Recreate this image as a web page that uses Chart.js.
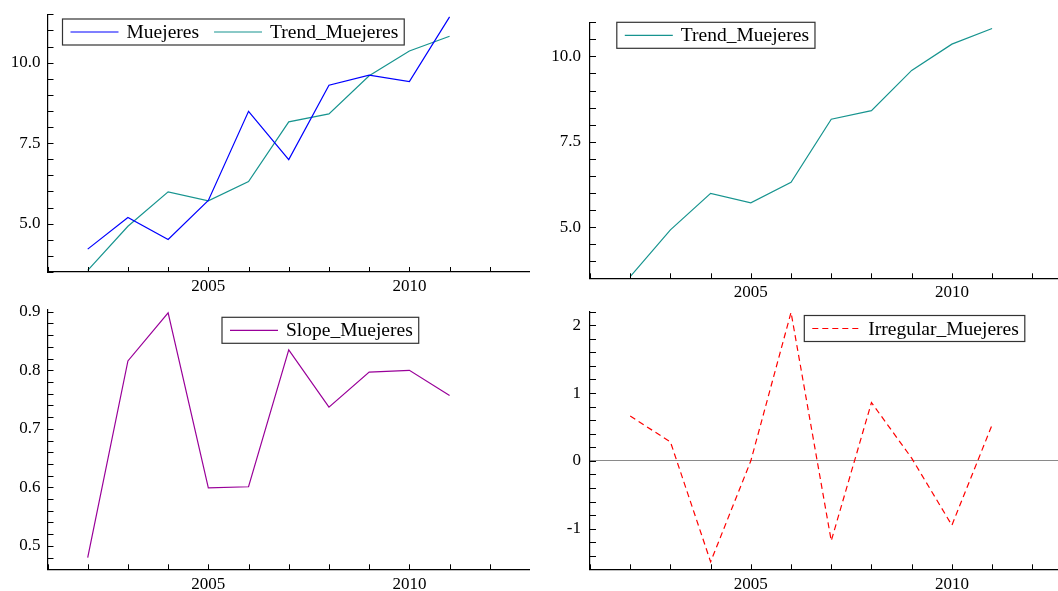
<!DOCTYPE html>
<html>
<head>
<meta charset="utf-8">
<title>Muejeres</title>
<script src="https://cdn.jsdelivr.net/npm/chart.js@4"></script>
<style>
    html, body { margin: 0; padding: 0; background: #fff; overflow: hidden; }
    body { width: 1058px; height: 591px; position: relative; }
    canvas { position: absolute; }
</style>
</head>
<body>
<canvas id="levelChart" width="530" height="305" style="left:0;top:0"></canvas>
<canvas id="trendChart" width="545" height="305" style="left:530px;top:0"></canvas>
<canvas id="slopeChart" width="530" height="291" style="left:0;top:300px"></canvas>
<canvas id="irregularChart" width="545" height="291" style="left:530px;top:300px"></canvas>
<script>
// data
const years = [2002, 2003, 2004, 2005, 2006, 2007, 2008, 2009, 2010, 2011];
const muejeres = [4.21, 5.19, 4.51, 5.72, 8.49, 6.99, 9.30, 9.61, 9.41, 11.42];
const trendMuejeres = [3.55, 4.92, 5.99, 5.71, 6.31, 8.16, 8.41, 9.59, 10.36, 10.82];
const slopeMuejeres = [0.480, 0.816, 0.898, 0.599, 0.601, 0.835, 0.737, 0.797, 0.800, 0.757];
const irregularMuejeres = [0.66, 0.28, -1.49, 0.00, 2.19, -1.18, 0.86, 0.04, -0.95, 0.53];

// labelled ticks
const yearLabels = [2005, 2010];
const levelTickLabels = [5.0, 7.5, 10.0];
const slopeTickLabels = [0.5, 0.6, 0.7, 0.8, 0.9];
const irregularTickLabels = [-1, 0, 1, 2];

const FONT = '"Liberation Serif", "Times New Roman", serif';

function toPoints(values) {
    return years.map((yr, i) => ({ x: yr, y: values[i] }));
}

function buildTicks(min, max, step) {
    const ticks = [];
    let v = Math.ceil(min / step - 1e-6) * step;
    while (v <= max + 1e-6) {
        ticks.push({ value: Math.round(v * 1000) / 1000 });
        v += step;
    }
    return ticks;
}

function hasLabel(list, value) {
    return list.some(l => Math.abs(l - value) < 1e-6);
}

// small inward tick marks on both axes
const innerTicksPlugin = {
    id: 'innerTicks',
    afterDraw(chart) {
        const { ctx, chartArea } = chart;
        const xs = chart.scales.x;
        const ys = chart.scales.y;
        ctx.save();
        ctx.strokeStyle = '#000';
        ctx.lineWidth = 1;
        ctx.beginPath();
        xs.ticks.forEach(t => {
            const px = Math.round(xs.getPixelForValue(t.value)) + 0.5;
            ctx.moveTo(px, chartArea.bottom);
            ctx.lineTo(px, chartArea.bottom - 5);
        });
        ys.ticks.forEach(t => {
            const py = Math.round(ys.getPixelForValue(t.value)) + 0.5;
            ctx.moveTo(chartArea.left, py);
            ctx.lineTo(chartArea.left + 6, py);
        });
        ctx.stroke();
        ctx.restore();
    }
};

// boxed legend sitting inside the plot
const boxLegendPlugin = {
    id: 'boxLegend',
    afterDraw(chart, args, opts) {
        const ctx = chart.ctx;
        const items = chart.data.datasets.filter(ds => ds.label);
        ctx.save();
        ctx.font = '19.5px ' + FONT;
        const lineLen = 48, pad = 8, gap = 8, itemGap = 15, height = 26;
        const widths = items.map(ds => ctx.measureText(ds.label).width);
        let total = pad + 6;
        widths.forEach((w, i) => { total += lineLen + gap + w + (i > 0 ? itemGap : 0); });

        ctx.fillStyle = '#fff';
        ctx.fillRect(opts.x, opts.y, total, height);
        ctx.strokeStyle = '#333';
        ctx.lineWidth = 1.2;
        ctx.strokeRect(opts.x, opts.y, total, height);

        const cy = opts.y + height / 2;
        let cx = opts.x + pad;
        items.forEach((ds, i) => {
            ctx.beginPath();
            ctx.strokeStyle = ds.borderColor;
            ctx.lineWidth = ds.borderWidth;
            ctx.setLineDash(ds.borderDash || []);
            ctx.moveTo(cx, cy);
            ctx.lineTo(cx + lineLen, cy);
            ctx.stroke();
            ctx.setLineDash([]);
            ctx.fillStyle = '#000';
            ctx.textBaseline = 'middle';
            ctx.fillText(ds.label, cx + lineLen + gap, cy + 1);
            cx += lineLen + gap + widths[i] + itemGap;
        });
        ctx.restore();
    }
};

function createPanel(canvasId, datasets, panel) {
    const ctx = document.getElementById(canvasId).getContext('2d');
    return new Chart(ctx, {
        type: 'line',
        data: { datasets: datasets },
        options: {
            responsive: false,
            animation: false,
            devicePixelRatio: 1,
            layout: { padding: { top: panel.padTop, right: panel.padRight, left: 0, bottom: 0 } },
            elements: { point: { radius: 0 }, line: { tension: 0 } },
            plugins: {
                legend: { display: false },
                tooltip: { enabled: false },
                boxLegend: panel.legend
            },
            scales: {
                x: {
                    type: 'linear',
                    min: 2001,
                    max: 2013,
                    afterBuildTicks: scale => { scale.ticks = buildTicks(2001, 2013, 1); },
                    afterFit: scale => {
                        scale.height = panel.xHeight;
                        scale.paddingLeft = 0;
                        scale.paddingRight = 0;
                    },
                    grid: { drawTicks: false, color: 'rgba(0,0,0,0)' },
                    border: { display: true, color: '#000', width: 1.2 },
                    ticks: {
                        autoSkip: false,
                        maxRotation: 0,
                        padding: panel.xPad,
                        color: '#000',
                        font: { family: FONT, size: 17 },
                        callback: value => hasLabel(yearLabels, value) ? String(value) : ''
                    }
                },
                y: {
                    type: 'linear',
                    min: panel.yMin,
                    max: panel.yMax,
                    afterBuildTicks: scale => { scale.ticks = buildTicks(panel.yMin, panel.yMax, panel.yStep); },
                    afterFit: scale => {
                        scale.width = panel.yWidth;
                        scale.paddingTop = 0;
                        scale.paddingBottom = 0;
                    },
                    grid: {
                        drawTicks: false,
                        color: c => (panel.zeroLine && c.tick && Math.abs(c.tick.value) < 1e-6) ? '#8a8a8a' : 'rgba(0,0,0,0)',
                        lineWidth: 1
                    },
                    border: { display: true, color: '#000', width: 1.2 },
                    ticks: {
                        autoSkip: false,
                        padding: panel.yPad,
                        color: '#000',
                        font: { family: FONT, size: 17 },
                        callback: value => hasLabel(panel.labels, value) ? panel.format(value) : ''
                    }
                }
            }
        },
        plugins: [innerTicksPlugin, boxLegendPlugin]
    });
}

document.addEventListener('DOMContentLoaded', function() {
    createPanel('levelChart', [
        { label: 'Muejeres', data: toPoints(muejeres), borderColor: '#0000ff', borderWidth: 1.2 },
        { label: 'Trend_Muejeres', data: toPoints(trendMuejeres), borderColor: '#17948f', borderWidth: 1.2 }
    ], {
        padTop: 14.3, padRight: 0, xHeight: 33, yWidth: 47.5, xPad: 4, yPad: 7,
        yMin: 3.5, yMax: 11.5, yStep: 0.5, labels: levelTickLabels,
        format: v => v.toFixed(1), legend: { x: 62.5, y: 19 }
    });

    createPanel('trendChart', [
        { label: 'Trend_Muejeres', data: toPoints(trendMuejeres), borderColor: '#17948f', borderWidth: 1.2 }
    ], {
        padTop: 22.3, padRight: 2.5, xHeight: 26.7, yWidth: 60, xPad: 4, yPad: 9,
        yMin: 3.5, yMax: 11.0, yStep: 0.5, labels: levelTickLabels,
        format: v => v.toFixed(1), legend: { x: 86.8, y: 22.3 }
    });

    createPanel('slopeChart', [
        { label: 'Slope_Muejeres', data: toPoints(slopeMuejeres), borderColor: '#990099', borderWidth: 1.2 }
    ], {
        padTop: 10, padRight: 0, xHeight: 21.7, yWidth: 47.5, xPad: 5, yPad: 7,
        yMin: 0.46, yMax: 0.903, yStep: 0.02, labels: slopeTickLabels,
        format: v => v.toFixed(1), legend: { x: 222, y: 17.3 }
    });

    createPanel('irregularChart', [
        { label: 'Irregular_Muejeres', data: toPoints(irregularMuejeres), borderColor: '#ff0000', borderWidth: 1.2, borderDash: [6, 4] }
    ], {
        padTop: 11.7, padRight: 2.5, xHeight: 21.7, yWidth: 60, xPad: 5, yPad: 9,
        yMin: -1.6, yMax: 2.2, yStep: 0.2, labels: irregularTickLabels, zeroLine: true,
        format: v => String(Math.round(v)), legend: { x: 274.3, y: 15.5 }
    });
});
</script>
</body>
</html>
